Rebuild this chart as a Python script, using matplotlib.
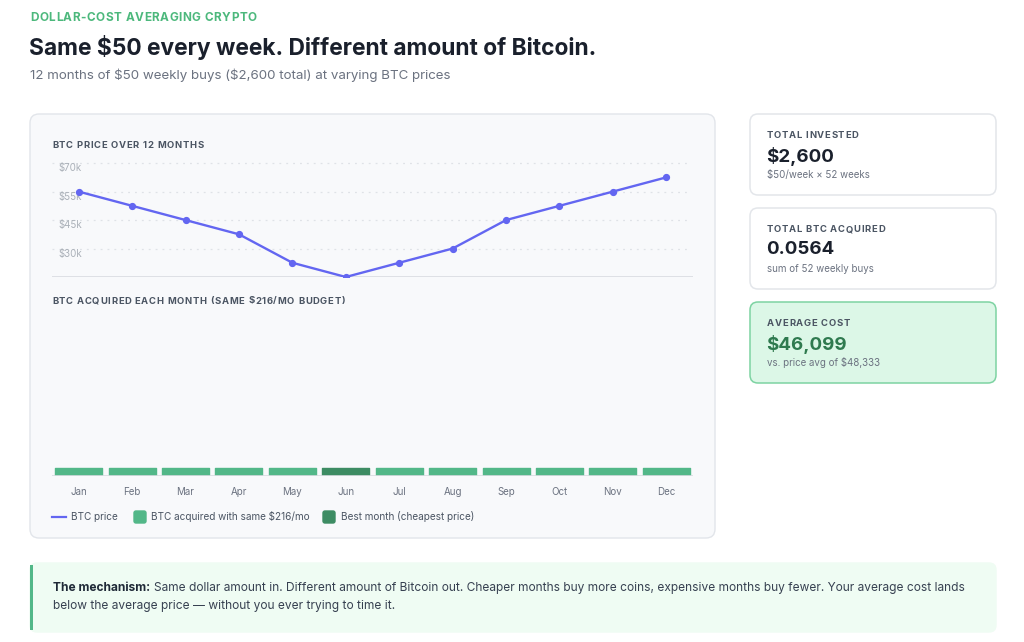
#!/usr/bin/env python3
"""Dollar-cost averaging crypto: BTC price vs BTC acquired per month."""

import matplotlib
matplotlib.use("Agg")
import matplotlib.pyplot as plt
import numpy as np
from matplotlib.patches import FancyBboxPatch, Rectangle
from matplotlib.lines import Line2D
from matplotlib.font_manager import FontProperties, findfont, get_font
from matplotlib import ft2font

plt.rcParams["font.family"] = ["Inter", "DejaVu Sans"]
plt.rcParams["text.parse_math"] = False

# ---- data -----------------------------------------------------------------
months = ["Jan", "Feb", "Mar", "Apr", "May", "Jun",
          "Jul", "Aug", "Sep", "Oct", "Nov", "Dec"]
btc_price = [60000, 55000, 50000, 45000, 35000, 30000,
             35000, 40000, 50000, 55000, 60000, 65000]
price_ticks = [40000, 50000, 60000, 70000]
price_tick_labels = ["$30k", "$45k", "$55k", "$70k"]  # as printed on the source chart

weekly_buy = 50
weeks = 52
monthly_budget = 216
total_btc = 0.0564

total_invested = weekly_buy * weeks
avg_cost = total_invested / total_btc
price_avg = np.mean(btc_price)
btc_month = monthly_budget / np.array(btc_price)
best = int(np.argmin(btc_price))

# ---- style ----------------------------------------------------------------
W, H = 1024, 642
INDIGO = "#6366f1"
GREEN = "#52b788"
DARK_GREEN = "#3d8c63"
TEXT_DARK = "#1a202c"
TEXT_MID = "#4b5563"
TEXT_LIGHT = "#6b7280"

try:
    NO_HINT = ft2font.LoadFlags.NO_HINTING
    KERN = ft2font.Kerning.DEFAULT
except AttributeError:  # older matplotlib
    NO_HINT = ft2font.LOAD_NO_HINTING
    KERN = ft2font.KERNING_DEFAULT

fig = plt.figure(figsize=(W / 100, H / 100), dpi=100)
fig.patch.set_facecolor("white")

# background layer in pixel units
bg = fig.add_axes([0, 0, 1, 1])
bg.set_xlim(0, W)
bg.set_ylim(H, 0)
bg.axis("off")


def box(x0, y0, x1, y1, fc, ec, r=8, lw=1.0):
    p = FancyBboxPatch((x0, y0), x1 - x0, y1 - y0,
                       boxstyle=f"round,pad=0,rounding_size={r}",
                       fc=fc, ec=ec, lw=lw, zorder=0)
    bg.add_patch(p)


def px_axes(x0, y0, x1, y1):
    return fig.add_axes([x0 / W, 1 - y1 / H, (x1 - x0) / W, (y1 - y0) / H])


def spaced(x, y, s, size, color, spacing):
    """Letter-spaced caps label: glyph origins placed by real advances + spacing (px)."""
    prop = FontProperties(family="Inter", size=size, weight="bold")
    font = get_font(findfont(prop))
    font.set_size(size, 100)
    pen, prev = 0.0, None
    for ch in s:
        idx = font.get_char_index(ord(ch))
        if prev is not None:
            pen += font.get_kerning(prev, idx, KERN) / 64
        g = font.load_char(ord(ch), flags=NO_HINT)
        if not ch.isspace():
            bg.text(x + pen, y, ch, fontproperties=prop,
                    color=color, va="baseline", ha="left")
        pen += g.linearHoriAdvance / 65536 + spacing
        prev = idx


# header
spaced(30, 21, "DOLLAR-COST AVERAGING CRYPTO", 8.5, "#4cb87c", 0.5)
bg.text(29, 48, "Same $50 every week. Different amount of Bitcoin.", color=TEXT_DARK,
        fontsize=16.4, fontweight="bold", va="center", ha="left")
bg.text(30, 75, f"12 months of ${weekly_buy} weekly buys (${total_invested:,} total) at varying BTC prices",
        color=TEXT_LIGHT, fontsize=9.6, va="center", ha="left")

# chart panel
box(30, 114, 715, 538, "#f8f9fb", "#e2e5ea", r=9)
spaced(52, 148.5, "BTC PRICE OVER 12 MONTHS", 6.8, TEXT_MID, 0.7)
spaced(52, 303.5, f"BTC ACQUIRED EACH MONTH (SAME ${monthly_budget}/MO BUDGET)", 6.8, TEXT_MID, 0.7)

x = np.arange(len(months))

# price line
ax_p = px_axes(52, 158, 693, 277)
ax_p.patch.set_alpha(0)
ax_p.set_xlim(-0.5, len(months) - 0.5)
ax_p.set_ylim(30000, 71800)
for s in ax_p.spines.values():
    s.set_visible(False)
ax_p.set_xticks([])
ax_p.set_yticks([])
for v, lab in zip(price_ticks, price_tick_labels):
    ax_p.axhline(v, xmin=0, xmax=0.99, color="#dfe2e7", lw=0.9, ls=(0, (1.5, 4)), zorder=1)
    ax_p.text(0.01, v, lab, transform=ax_p.get_yaxis_transform(), color="#aab0b8",
              fontsize=7.0, va="top", ha="left", zorder=2)
ax_p.axhline(30000, color="#d9dce1", lw=1.2, zorder=1)
ax_p.plot(x, btc_price, color=INDIGO, lw=1.7, marker="o", ms=4.2, zorder=3)

# bars
ax_b = px_axes(52, 310, 693, 476)
ax_b.patch.set_alpha(0)
ax_b.set_xlim(-0.5, len(months) - 0.5)
ax_b.set_ylim(0, 1.0)
# source chart renders every month at its minimum visible bar height
shown = np.maximum(btc_month, 0.048)
colors = [DARK_GREEN if i == best else GREEN for i in range(len(months))]
ax_b.bar(x, shown, width=0.88, color=colors, edgecolor=colors, lw=1.0,
         joinstyle="round", zorder=2)
for s in ax_b.spines.values():
    s.set_visible(False)
ax_b.axhline(0, color="#d9dce1", lw=1.2, zorder=3)
ax_b.set_yticks([])
ax_b.set_xticks(x)
ax_b.set_xticklabels(months, color=TEXT_LIGHT, fontsize=7)
ax_b.tick_params(axis="x", length=0, pad=8)

# legend
bg.add_line(Line2D([52, 66], [517, 517], color=INDIGO, lw=1.6))
bg.text(71, 517, "BTC price", color=TEXT_MID, fontsize=7.2, va="center")
box(134, 511, 146, 523, GREEN, GREEN, r=2)
bg.text(151, 517, f"BTC acquired with same ${monthly_budget}/mo", color=TEXT_MID,
        fontsize=7.2, va="center")
box(323, 511, 335, 523, DARK_GREEN, DARK_GREEN, r=2)
bg.text(341, 517, "Best month (cheapest price)", color=TEXT_MID, fontsize=7.2, va="center")

# stat cards
cards = [
    (114, "TOTAL INVESTED", f"${total_invested:,}", f"${weekly_buy}/week × {weeks} weeks",
     "white", "#e3e6ea", TEXT_DARK),
    (208, "TOTAL BTC ACQUIRED", f"{total_btc:.4f}", f"sum of {weeks} weekly buys",
     "white", "#e3e6ea", TEXT_DARK),
    (302, "AVERAGE COST", f"${avg_cost:,.0f}", f"vs. price avg of ${price_avg:,.0f}",
     "#dcf7e7", "#7dd3a2", "#2f7a4f"),
]
for top, label, value, sub, fc, ec, vc in cards:
    box(750, top, 996, top + 81, fc, ec, r=8, lw=1.1)
    spaced(767, top + 24.5, label, 6.8, TEXT_MID, 0.7)
    bg.text(766, top + 42, value, color=vc, fontsize=13.5, fontweight="bold", va="center")
    bg.text(767, top + 61, sub, color=TEXT_LIGHT, fontsize=7, va="center")

# mechanism callout
box(30, 563, 996, 632, "#effcf3", "#effcf3", r=7)
bg.add_patch(Rectangle((30, 565), 3, 65, color=GREEN, lw=0, zorder=1))
t_bold = bg.text(53, 588, "The mechanism:", color="#1f2937", fontsize=8.6,
                 fontweight="bold", va="center")
fig.canvas.draw()
bb = t_bold.get_window_extent()
bg.text(53 + bb.width + 4, 588,
        "Same dollar amount in. Different amount of Bitcoin out. Cheaper months buy more coins, "
        "expensive months buy fewer. Your average cost lands",
        color="#374151", fontsize=8.6, va="center")
bg.text(53, 606, "below the average price — without you ever trying to time it.",
        color="#374151", fontsize=8.6, va="center")

fig.savefig("out.png", dpi=100, facecolor="white")
